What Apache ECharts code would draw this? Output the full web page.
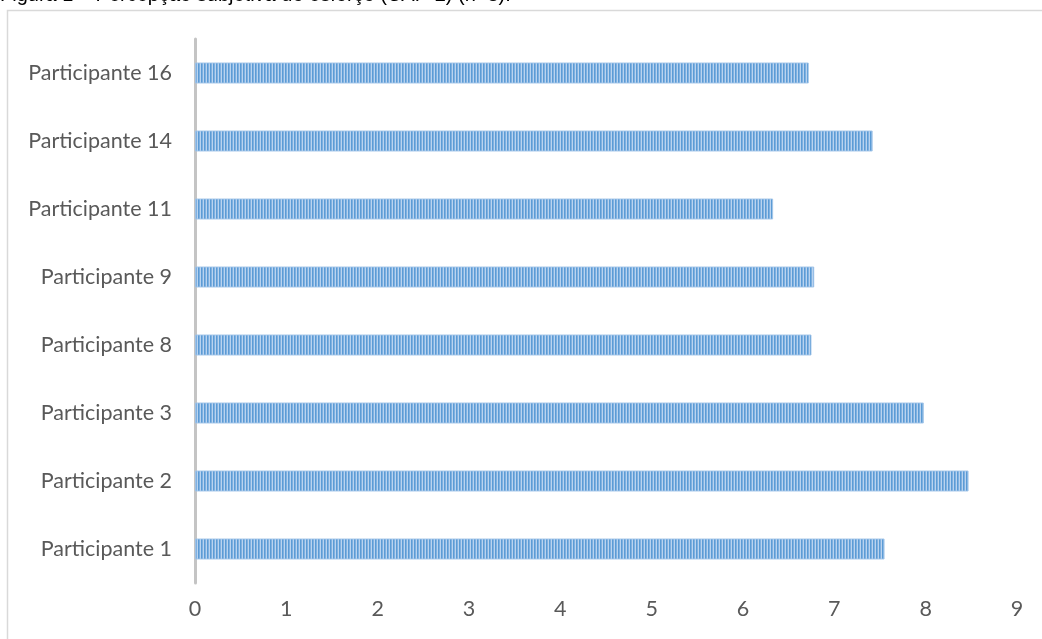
<!DOCTYPE html>
<html>
<head>
<meta charset="utf-8">
<script src="https://cdn.jsdelivr.net/npm/echarts@6/dist/echarts.min.js"></script>
<style>
  html, body { margin: 0; padding: 0; background: #fff; }
  #chart { width: 1042px; height: 639px; }
</style>
</head>
<body>
<div id="chart"></div>
<script>
// categories, bottom to top
var participants = ['Participante 1', 'Participante 2', 'Participante 3', 'Participante 8',
  'Participante 9', 'Participante 11', 'Participante 14', 'Participante 16']
var effort = [7.55, 8.47, 7.98, 6.75, 6.78, 6.33, 7.42, 6.72]
var xTicks = [0, 1, 2, 3, 4, 5, 6, 7, 8, 9]

// vertical striped fill like the original
var stripe = document.createElement('canvas')
stripe.width = 3
stripe.height = 1
var sctx = stripe.getContext('2d')
sctx.fillStyle = '#5b9bd5'; sctx.fillRect(0, 0, 1, 1)
sctx.fillStyle = '#7fb0e0'; sctx.fillRect(1, 0, 1, 1)
sctx.fillStyle = '#b9d3ef'; sctx.fillRect(2, 0, 1, 1)

var labelFont = 'Lato, "Open Sans", sans-serif'

var oChart = echarts.init(document.getElementById('chart'))
var opt = {
  animation: false,
  graphic: [
    {
      type: 'rect',
      shape: { x: 7.5, y: 10.5, width: 1050, height: 650 },
      style: { fill: 'none', stroke: '#d9d9d9', lineWidth: 1.5 }
    },
    {
      type: 'text',
      left: 0,
      top: -15,
      style: {
        text: 'Figura 1 – Percepção subjetiva do esforço (CAP-2) (n=8).',
        font: '20px "Liberation Sans", Arial, sans-serif',
        fill: '#000'
      }
    }
  ],
  grid: { left: 195, right: 25, top: 39, bottom: 56 },
  xAxis: {
    type: 'value',
    min: xTicks[0],
    max: xTicks[xTicks.length - 1],
    interval: 1,
    axisLine: { show: false },
    axisTick: { show: false },
    splitLine: { show: false },
    axisLabel: {
      margin: 15,
      color: '#595959',
      fontSize: 21.5,
      fontFamily: labelFont
    }
  },
  yAxis: {
    type: 'category',
    data: participants,
    axisLine: { show: true, lineStyle: { color: '#c4c4c4', width: 3 } },
    axisTick: { show: false },
    axisLabel: {
      margin: 23,
      color: '#595959',
      fontSize: 21.5,
      fontFamily: labelFont
    }
  },
  series: [
    {
      type: 'bar',
      barWidth: 21,
      data: effort,
      itemStyle: {
        color: { image: stripe, repeat: 'repeat' },
        borderColor: 'rgba(160,195,232,0.9)',
        borderWidth: 1
      }
    }
  ]
}
oChart.setOption(opt)
</script>
</body>
</html>
